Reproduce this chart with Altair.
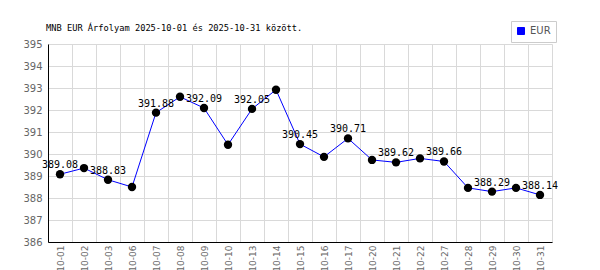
import altair as alt
import pandas as pd

dates = ["10-01", "10-02", "10-03", "10-06", "10-07", "10-08", "10-09", "10-10",
         "10-13", "10-14", "10-15", "10-16", "10-17", "10-20", "10-21", "10-22",
         "10-27", "10-28", "10-29", "10-30", "10-31"]
values = [389.08, 389.36, 388.83, 388.50, 391.88, 392.60, 392.09, 390.42,
          392.05, 392.92, 390.45, 389.87, 390.71, 389.73, 389.62, 389.80,
          389.66, 388.46, 388.29, 388.46, 388.14]
y_ticks = [386, 387, 388, 389, 390, 391, 392, 393, 394, 395]
series = "EUR"
title = "MNB EUR Árfolyam 2025-10-01 és 2025-10-31 között."

df = pd.DataFrame({
    "date": dates,
    "value": values,
    "series": [series] * len(dates),
    "show": [i % 2 == 0 for i in range(len(dates))],
})
df["label"] = df["value"].map(lambda v: f"{v:.2f}")

x = alt.X("date:O", sort=dates, bandPosition=0.5,
          scale=alt.Scale(type="band", paddingInner=0, paddingOuter=0),
          axis=alt.Axis(title=None, tickBand="extent", grid=True, ticks=False,
                        labelAngle=270, labelFont="DejaVu Sans", labelFontSize=9,
                        labelColor="#666666", labelPadding=3,
                        domainColor="#000000", gridColor="#d9d9d9"))
y = alt.Y("value:Q",
          scale=alt.Scale(domain=[386, 395], nice=False, zero=False),
          axis=alt.Axis(title=None, values=y_ticks, grid=True, ticks=False,
                        labelFont="DejaVu Sans", labelFontSize=10,
                        labelColor="#666666", labelPadding=6,
                        domainColor="#000000", gridColor="#d9d9d9"))

base = alt.Chart(df)

line = base.mark_line(strokeWidth=1).encode(
    x=x, y=y,
    color=alt.Color("series:N", scale=alt.Scale(domain=[series], range=["#0000ff"]),
                    legend=alt.Legend(title=None, orient="none", legendX=463, legendY=-23,
                                      symbolType="square", symbolSize=49,
                                      symbolFillColor="#0000ff", symbolStrokeWidth=1,
                                      labelFont="DejaVu Sans", labelFontSize=10,
                                      labelColor="#555555", padding=5,
                                      strokeColor="#cccccc", fillColor="#ffffff")),
)
points = base.mark_circle(size=70, color="#000000", opacity=1).encode(x=x, y=y)
labels = base.transform_filter(alt.datum.show).mark_text(
    font="DejaVu Sans Mono", fontSize=10, color="#000000", baseline="bottom", dy=-4
).encode(x=x, y=y, text="label:N")

chart = alt.layer(line, points, labels).properties(
    width=504, height=198,
    autosize=alt.AutoSizeParams(type="none"),
    padding={"left": 48, "top": 44, "right": 48, "bottom": 28},
    title=alt.TitleParams(text=title, anchor="start", frame="group",
                          font="DejaVu Sans Mono",
                          fontSize=8.7, fontWeight="normal", color="#000000",
                          offset=-12, dx=-2),
).configure_view(stroke=None)

chart.save("out.html", embed_options={"renderer": "svg", "actions": False})
